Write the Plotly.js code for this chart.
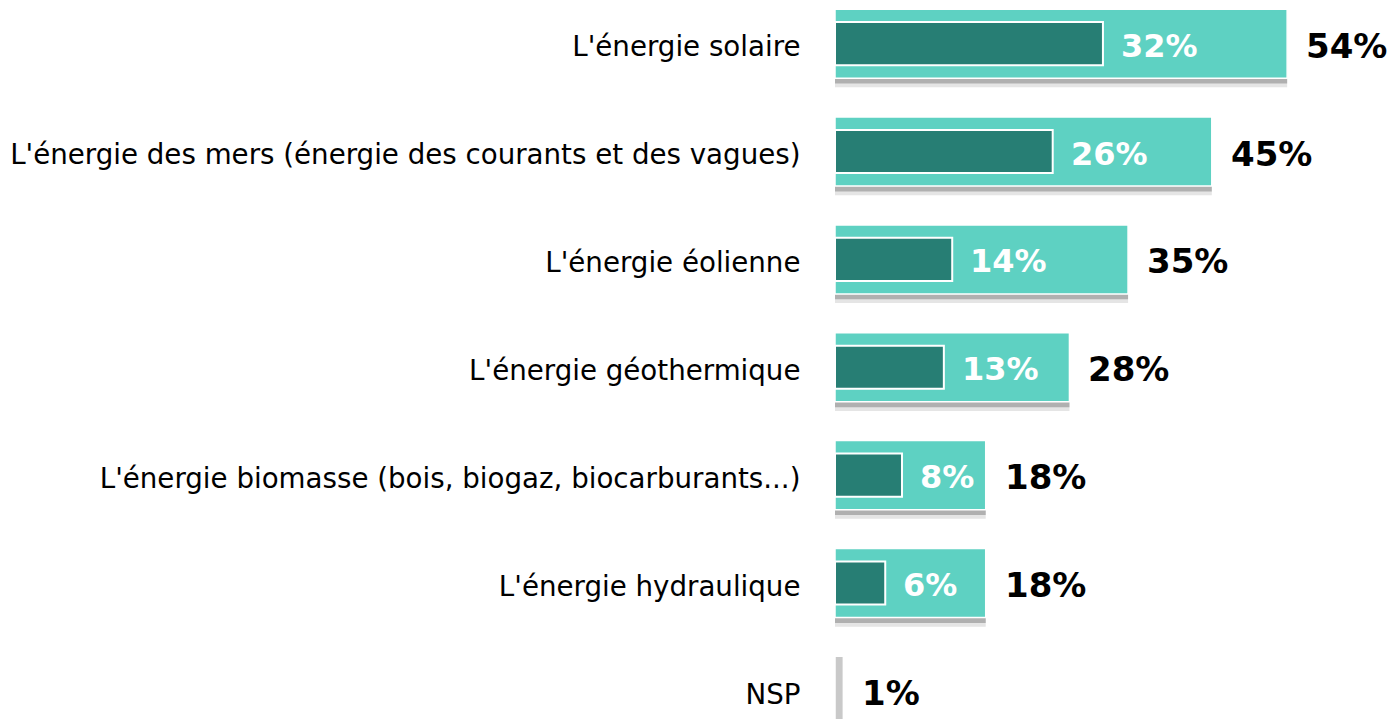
<!DOCTYPE html>
<html>
<head>
<meta charset="utf-8">
<script src="https://cdn.plot.ly/plotly-3.0.1.min.js"></script>
<style>
html,body{margin:0;padding:0;background:#fff;}
#chart{width:1396px;height:719px;}
</style>
</head>
<body>
<div id="chart"></div>
<script>
const categories = [
  "L'énergie solaire",
  "L'énergie des mers (énergie des courants et des vagues)",
  "L'énergie éolienne",
  "L'énergie géothermique",
  "L'énergie biomasse (bois, biogaz, biocarburants...)",
  "L'énergie hydraulique",
  "NSP"
];
const totalValues = [54, 45, 35, 28, 18, 18, 1];
const firstValues = [32, 26, 14, 13, 8, 6, null];
const totalLabels = ["54%", "45%", "35%", "28%", "18%", "18%", "1%"];
const firstLabels = ["32%", "26%", "14%", "13%", "8%", "6%", ""];

const outerColors = categories.map(c => c === "NSP" ? "#c9c9c9" : "#5ed1c2");

const shadowSoft = {
  type: 'bar', orientation: 'h', y: categories, x: totalValues,
  width: 0.64, offset: -0.32 + 0.085,
  marker: {color: 'rgba(150,150,150,0.25)', line: {width: 0}},
  hoverinfo: 'skip', showlegend: false
};
const shadow = {
  type: 'bar', orientation: 'h', y: categories, x: totalValues,
  width: 0.64, offset: -0.32 + 0.05,
  marker: {color: 'rgba(110,110,110,0.45)', line: {width: 0}},
  hoverinfo: 'skip', showlegend: false
};
const outer = {
  type: 'bar', orientation: 'h', y: categories, x: totalValues,
  width: 0.64, offset: -0.32,
  marker: {color: outerColors, line: {color: '#ffffff', width: 1.5}},
  showlegend: false
};
const inner = {
  type: 'bar', orientation: 'h', y: categories, x: firstValues,
  width: 0.40, offset: -0.20,
  marker: {color: '#277e74', line: {color: '#ffffff', width: 2}},
  showlegend: false
};

const annotations = [];
categories.forEach((c, i) => {
  annotations.push({
    x: totalValues[i], y: c, xref: 'x', yref: 'y',
    text: '<b>' + totalLabels[i] + '</b>', showarrow: false,
    xanchor: 'left', xshift: 17, yshift: -2,
    font: {family: 'DejaVu Sans', size: 34, color: '#000000'}
  });
  if (firstValues[i] !== null && firstLabels[i]) {
    annotations.push({
      x: firstValues[i], y: c, xref: 'x', yref: 'y',
      text: '<b>' + firstLabels[i] + '</b>', showarrow: false,
      xanchor: 'left', xshift: 16, yshift: -2,
      font: {family: 'DejaVu Sans', size: 32, color: '#ffffff'}
    });
  }
});

const layout = {
  width: 1396, height: 719,
  margin: {l: 835, r: 0, t: 0, b: 0, pad: 0},
  paper_bgcolor: '#ffffff', plot_bgcolor: '#ffffff',
  barmode: 'overlay',
  showlegend: false,
  xaxis: {range: [0, 67], visible: false, fixedrange: true},
  yaxis: {
    type: 'category', range: [6.261, -0.405],
    showgrid: false, zeroline: false, showline: false,
    ticks: 'outside', ticklen: 28, tickcolor: 'rgba(0,0,0,0)',
    ticklabelshift: -3,
    tickfont: {family: 'DejaVu Sans', size: 27.7, color: '#000000'}
  },
  annotations: annotations,
  font: {family: 'DejaVu Sans'}
};

Plotly.newPlot('chart', [shadowSoft, shadow, outer, inner], layout, {displayModeBar: false, staticPlot: true});
</script>
</body>
</html>
